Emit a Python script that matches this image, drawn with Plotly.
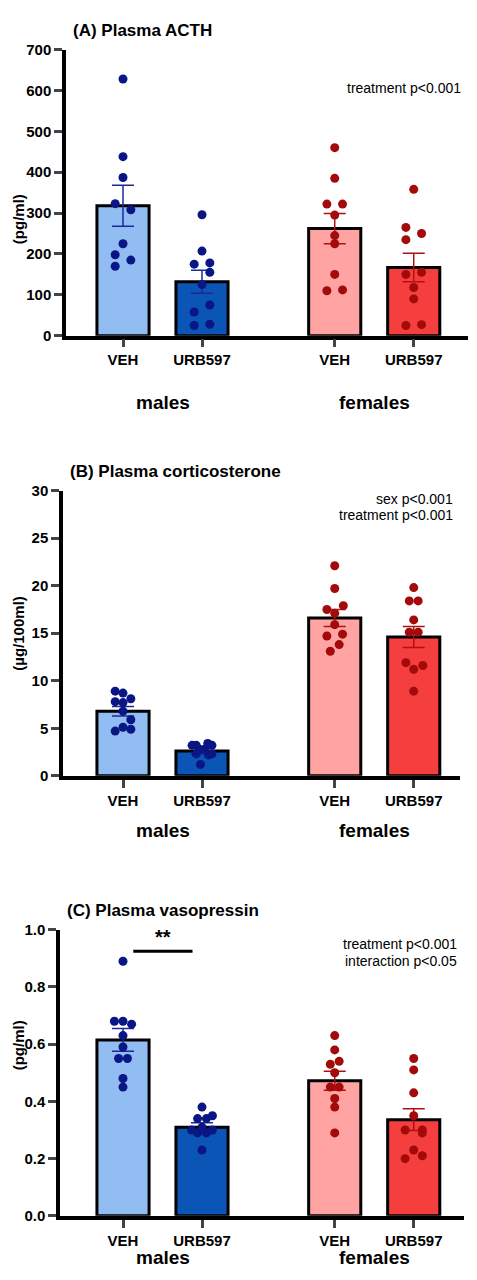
import plotly.graph_objects as go

groups = ["VEH", "URB597", "VEH", "URB597"]
positions = [0, 1, 2.68, 3.68]

# Panel A: ACTH (pg/ml)
acth = [
    [628, 438, 387, 323, 308, 225, 198, 185, 170],
    [296, 207, 175, 178, 155, 125, 58, 75, 25, 28],
    [460, 385, 322, 322, 295, 245, 225, 150, 110, 112],
    [358, 265, 235, 250, 150, 155, 118, 90, 25, 27],
]
acth_mean = [318, 132, 262, 167]
acth_sem = [50, 28, 37, 35]
acth_jit = [
    [0, 0, 0, -0.3, 0.3, 0, -0.3, 0.3, -0.3],
    [0, 0, -0.3, 0.3, 0.3, 0, -0.3, 0.3, -0.3, 0.3],
    [0, 0, -0.3, 0.3, 0, 0, 0, 0, -0.3, 0.3],
    [0, -0.3, -0.3, 0.3, -0.3, 0.3, 0, 0, -0.3, 0.3],
]

# Panel B: corticosterone (µg/100ml)
cort = [
    [8.9, 8.7, 7.8, 7.7, 8.1, 6.8, 5.9, 5.1, 4.7, 4.9],
    [3.2, 3.2, 3.4, 3.2, 2.8, 2.8, 2.3, 2.2, 2.3, 1.2],
    [22.1, 19.7, 17.5, 17.9, 17.1, 15.9, 14.7, 14.9, 13.8, 13.1],
    [19.8, 18.4, 18.4, 16.4, 15.1, 15.1, 11.9, 11.6, 11.2, 8.9],
]
cort_mean = [6.8, 2.6, 16.6, 14.6]
cort_sem = [0.5, 0.3, 0.9, 1.1]
cort_jit = [
    [-0.3, 0, -0.3, 0, 0.3, 0, 0.3, 0, -0.3, 0.3],
    [-0.38, -0.22, 0.22, 0.38, -0.1, 0.1, -0.22, 0.25, 0.38, -0.06],
    [0, 0, -0.3, 0.33, 0, 0, -0.3, 0.3, 0.17, -0.17],
    [0, -0.17, 0.17, 0, -0.17, 0.17, -0.3, 0.35, 0, 0],
]

# Panel C: vasopressin (pg/ml)
avp = [
    [0.89, 0.68, 0.68, 0.67, 0.63, 0.59, 0.55, 0.55, 0.48, 0.45],
    [0.38, 0.34, 0.34, 0.35, 0.30, 0.30, 0.29, 0.29, 0.31, 0.23],
    [0.63, 0.58, 0.53, 0.54, 0.50, 0.45, 0.45, 0.41, 0.38, 0.29],
    [0.55, 0.51, 0.43, 0.35, 0.30, 0.30, 0.23, 0.29, 0.20, 0.21],
]
avp_mean = [0.615, 0.31, 0.472, 0.336]
avp_sem = [0.04, 0.015, 0.033, 0.038]
avp_jit = [
    [0, -0.33, 0, 0.33, 0, 0, -0.17, 0.17, 0, 0],
    [0, -0.17, 0.17, 0.4, -0.4, 0.4, -0.17, 0.17, 0, 0],
    [0, 0, -0.17, 0.17, 0, -0.17, 0.17, 0, 0, 0],
    [0, 0, 0, 0, -0.33, 0.33, 0, 0.33, -0.33, 0.33],
]

bar_colors = ["#92bdf3", "#0a55b5", "#ffa3a3", "#f53f3f"]
dot_colors = ["#0a1683", "#0a1683", "#a30a0a", "#a30a0a"]
err_colors = ["#1a2a9a", "#1a2a9a", "#b01010", "#b01010"]

H, W = 1280, 477
FONT = "Liberation Sans, Arial"
JIT_SCALE = 0.33

panels = [
    dict(vals=acth, mean=acth_mean, sem=acth_sem, jit=acth_jit, top=33, bot=323, xl=58, xr=460,
         yr=[0, 700], dt=100, ylab="(pg/ml)", title="(A) Plasma ACTH", tfmt=None,
         stats=["treatment p<0.001"], stat_y=[62]),
    dict(vals=cort, mean=cort_mean, sem=cort_sem, jit=cort_jit, top=480, bot=769, xl=55, xr=452,
         yr=[0, 30], dt=5, ylab="(µg/100ml)", title="(B) Plasma corticosterone", tfmt=None,
         stats=["sex p<0.001", "treatment p<0.001"], stat_y=[488, 505]),
    dict(vals=avp, mean=avp_mean, sem=avp_sem, jit=avp_jit, top=925, bot=1215, xl=52, xr=456,
         yr=[0, 1.0], dt=0.2, ylab="(pg/ml)", title="(C) Plasma vasopressin", tfmt=".1f",
         stats=["treatment p<0.001", "interaction p<0.05"], stat_y=[950, 967]),
]

fig = go.Figure()
annotations = []
shapes = []
layout = {}
for i, p in enumerate(panels, start=1):
    xa = "x" if i == 1 else f"x{i}"
    ya = "y" if i == 1 else f"y{i}"
    unit_px = 79.0
    x0 = positions[0] - (115 - p["xl"]) / unit_px
    x1 = x0 + (p["xr"] - p["xl"]) / unit_px
    for g in range(4):
        fig.add_trace(go.Bar(
            x=[positions[g]], y=[p["mean"][g]], width=0.66, xaxis=xa, yaxis=ya,
            marker=dict(color=bar_colors[g], line=dict(color="black", width=3)),
            error_y=dict(type="data", array=[p["sem"][g]], arrayminus=[p["sem"][g]],
                         color=err_colors[g], thickness=1.5, width=11),
            showlegend=False))
    for g in range(4):
        xs = [positions[g] + j * JIT_SCALE for j in p["jit"][g]]
        fig.add_trace(go.Scatter(
            x=xs, y=p["vals"][g], mode="markers", xaxis=xa, yaxis=ya,
            marker=dict(color=dot_colors[g], size=9), showlegend=False))
    ykey = "yaxis" if i == 1 else f"yaxis{i}"
    xkey = "xaxis" if i == 1 else f"xaxis{i}"
    layout[ykey] = dict(domain=[1 - p["bot"] / H, 1 - p["top"] / H], range=p["yr"], anchor=xa,
                        dtick=p["dt"], tickformat=p["tfmt"], ticks="outside", ticklen=8, tickwidth=3,
                        showline=True, linewidth=3.5, linecolor="black", showgrid=False, zeroline=False,
                        tickfont=dict(family=FONT, size=15, color="black", weight="bold"))
    layout[xkey] = dict(domain=[p["xl"] / W, p["xr"] / W], range=[x0, x1], anchor=ya,
                        tickvals=positions, ticktext=groups, ticks="outside", ticklen=8, tickwidth=3,
                        showline=True, linewidth=3.5, linecolor="black", showgrid=False, zeroline=False,
                        tickfont=dict(family=FONT, size=15, color="black", weight="bold"))
    mid = 1 - (p["top"] + p["bot"]) / 2 / H
    annotations.append(dict(text=p["ylab"], x=0, y=mid, xref="paper", yref="paper",
                            xanchor="left", textangle=-90, showarrow=False,
                            font=dict(family=FONT, size=15, color="black", weight="bold")))
    annotations.append(dict(text=p["title"], x=(p["xl"] + 5) / W, y=1 - (p["top"] - 8) / H,
                            xref="paper", yref="paper", xanchor="left", yanchor="bottom",
                            showarrow=False,
                            font=dict(family=FONT, size=17, color="black", weight="bold")))
    for s, sy in zip(p["stats"], p["stat_y"]):
        annotations.append(dict(text=s, x=(p["xr"] - 5) / W, y=1 - sy / H, xref="paper",
                                yref="paper", xanchor="right", showarrow=False,
                                font=dict(family=FONT, size=14, color="black")))
    for lab, cx in [("males", 0.5), ("females", 3.18)]:
        annotations.append(dict(text=lab, x=cx, y=1 - (p["bot"] + 55) / H, xref=xa, yref="paper",
                                showarrow=False,
                                font=dict(family=FONT, size=19, color="black", weight="bold")))

shapes.append(dict(type="line", x0=0.13, x1=0.88, y0=0.925, y1=0.925, xref="x3", yref="y3",
                   line=dict(color="black", width=3)))
annotations.append(dict(text="**", x=0.5, y=0.975, xref="x3", yref="y3", showarrow=False,
                        font=dict(family=FONT, size=20, color="black", weight="bold")))

fig.update_layout(width=W, height=H, margin=dict(l=0, r=0, t=0, b=0), plot_bgcolor="white",
                  paper_bgcolor="white", annotations=annotations, shapes=shapes, barmode="overlay",
                  **layout)
fig.write_html("out.html")
